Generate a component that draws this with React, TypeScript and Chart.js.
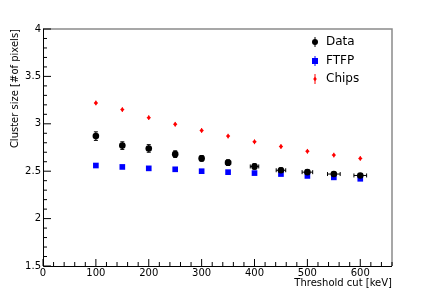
import React, { useEffect, useRef } from "react";
import { Chart, registerables } from "chart.js";

Chart.register(...registerables);

const thresholds = [100, 150, 200, 250, 300, 350, 400, 450, 500, 550, 600];
const dataValues = [2.87, 2.77, 2.74, 2.68, 2.635, 2.59, 2.55, 2.51, 2.49, 2.47, 2.455];
const dataYErr = [0.045, 0.04, 0.04, 0.035, 0.03, 0.03, 0.03, 0.025, 0.025, 0.02, 0.02];
const dataXErr = [0, 0, 0, 0, 0, 5, 8, 9, 10, 12, 12];
const ftfpValues = [2.56, 2.545, 2.53, 2.52, 2.5, 2.49, 2.48, 2.47, 2.45, 2.435, 2.42];
const ftfpYErr = [0.01, 0.01, 0.01, 0.01, 0.01, 0.01, 0.01, 0.01, 0.01, 0.01, 0.01];
const chipsValues = [3.22, 3.15, 3.065, 2.995, 2.93, 2.87, 2.81, 2.76, 2.71, 2.67, 2.635];
const chipsYErr = [0.025, 0.025, 0.025, 0.025, 0.025, 0.025, 0.025, 0.025, 0.025, 0.025, 0.025];
const seriesLabels = ["Data", "FTFP", "Chips"];

const FONT = "'DejaVu Sans', sans-serif";

const errorBarPlugin = {
  id: "errorBars",
  beforeDatasetsDraw(chart: any) {
    const ctx = chart.ctx;
    const xs = chart.scales.x;
    const ys = chart.scales.y;
    chart.data.datasets.forEach((ds: any) => {
      ctx.save();
      ctx.strokeStyle = ds.borderColor;
      ctx.lineWidth = 1;
      ds.data.forEach((p: any) => {
        const px = xs.getPixelForValue(p.x);
        const py = ys.getPixelForValue(p.y);
        if (p.ey) {
          const y1 = ys.getPixelForValue(p.y + p.ey);
          const y2 = ys.getPixelForValue(p.y - p.ey);
          ctx.beginPath();
          ctx.moveTo(px, y1);
          ctx.lineTo(px, y2);
          if (ds.caps) {
            ctx.moveTo(px - 2, y1);
            ctx.lineTo(px + 2, y1);
            ctx.moveTo(px - 2, y2);
            ctx.lineTo(px + 2, y2);
          }
          ctx.stroke();
        }
        if (p.ex) {
          const x1 = xs.getPixelForValue(p.x - p.ex);
          const x2 = xs.getPixelForValue(p.x + p.ex);
          ctx.beginPath();
          ctx.moveTo(x1, py);
          ctx.lineTo(x2, py);
          ctx.moveTo(x1, py - 2);
          ctx.lineTo(x1, py + 2);
          ctx.moveTo(x2, py - 2);
          ctx.lineTo(x2, py + 2);
          ctx.stroke();
        }
      });
      ctx.restore();
    });
  },
};

const framePlugin = {
  id: "frame",
  afterDraw(chart: any) {
    const ctx = chart.ctx;
    const { left, right, top, bottom } = chart.chartArea;
    const xs = chart.scales.x;
    const ys = chart.scales.y;
    ctx.save();
    // top & right frame (grey)
    ctx.strokeStyle = "#8a8a8a";
    ctx.lineWidth = 1.5;
    ctx.beginPath();
    ctx.moveTo(left, top);
    ctx.lineTo(right, top);
    ctx.lineTo(right, bottom);
    ctx.stroke();
    // axes
    ctx.strokeStyle = "#000";
    ctx.lineWidth = 1;
    ctx.beginPath();
    ctx.moveTo(left + 0.5, top);
    ctx.lineTo(left + 0.5, bottom + 0.5);
    ctx.lineTo(right, bottom + 0.5);
    ctx.stroke();
    // x ticks
    const xt = xs.ticks.map((t: any) => t.value);
    const xStep = xt[1] - xt[0];
    ctx.beginPath();
    for (let i = 0; i < xt.length; i++) {
      const px = xs.getPixelForValue(xt[i]);
      ctx.moveTo(px, bottom);
      ctx.lineTo(px, bottom - 7);
      for (let k = 1; k < 5; k++) {
        const v = xt[i] + (xStep * k) / 5;
        if (v > xs.max) break;
        const mx = xs.getPixelForValue(v);
        ctx.moveTo(mx, bottom);
        ctx.lineTo(mx, bottom - 4);
      }
    }
    ctx.stroke();
    // y ticks
    const yt = ys.ticks.map((t: any) => t.value);
    const yStep = yt[1] - yt[0];
    ctx.beginPath();
    for (let i = 0; i < yt.length; i++) {
      const py = ys.getPixelForValue(yt[i]);
      ctx.moveTo(left, py);
      ctx.lineTo(left + 8, py);
      for (let k = 1; k < 5; k++) {
        const v = yt[i] + (yStep * k) / 5;
        if (v > ys.max + 1e-9) break;
        const my = ys.getPixelForValue(v);
        ctx.moveTo(left, my);
        ctx.lineTo(left + 4, my);
      }
    }
    ctx.stroke();
    ctx.restore();
  },
};

const legendPlugin = {
  id: "customLegend",
  afterDraw(chart: any) {
    const ctx = chart.ctx;
    const x0 = 315;
    const rows = [42, 61, 79];
    ctx.save();
    chart.data.datasets.forEach((ds: any, i: number) => {
      const y = rows[i];
      ctx.strokeStyle = ds.borderColor;
      ctx.lineWidth = 1;
      ctx.beginPath();
      ctx.moveTo(x0, y - 5);
      ctx.lineTo(x0, y + 5);
      ctx.stroke();
      ctx.fillStyle = ds.backgroundColor;
      ctx.beginPath();
      if (ds.pointStyle === "rect") {
        ctx.rect(x0 - 3, y - 3, 6, 6);
      } else if (ds.pointStyle === "rectRot") {
        ctx.moveTo(x0, y - 2.2);
        ctx.lineTo(x0 + 1.8, y);
        ctx.lineTo(x0, y + 2.2);
        ctx.lineTo(x0 - 1.8, y);
        ctx.closePath();
      } else {
        ctx.arc(x0, y, 3, 0, Math.PI * 2);
      }
      ctx.fill();
      ctx.fillStyle = "#000";
      ctx.font = `12px ${FONT}`;
      ctx.textAlign = "left";
      ctx.textBaseline = "middle";
      ctx.fillText(ds.label, x0 + 11, y);
    });
    ctx.restore();
  },
};

function mk(vals: number[], ey: number[], ex?: number[]) {
  return thresholds.map((t, i) => ({ x: t, y: vals[i], ey: ey[i], ex: ex ? ex[i] : 0 }));
}

export default function App() {
  const ref = useRef<HTMLCanvasElement>(null);
  useEffect(() => {
    if (!ref.current) return;
    const chart = new Chart(ref.current, {
      type: "scatter",
      data: {
        datasets: [
          {
            label: seriesLabels[0],
            data: mk(dataValues, dataYErr, dataXErr),
            backgroundColor: "#000",
            borderColor: "#000",
            pointStyle: "circle",
            pointRadius: 3.3,
            pointBorderWidth: 0,
            caps: true,
          } as any,
          {
            label: seriesLabels[1],
            data: mk(ftfpValues, ftfpYErr),
            backgroundColor: "#0000ff",
            borderColor: "#0000ff",
            pointStyle: "rect",
            pointRadius: 4,
            pointBorderWidth: 0,
          } as any,
          {
            label: seriesLabels[2],
            data: mk(chipsValues, chipsYErr),
            backgroundColor: "#ff0000",
            borderColor: "#ff0000",
            pointStyle: "rectRot",
            pointRadius: 2.2,
            pointBorderWidth: 0,
          } as any,
        ],
      },
      options: {
        responsive: false,
        animation: false,
        events: [],
        layout: { padding: { left: 0, top: 29, right: 44, bottom: 0 } },
        plugins: { legend: { display: false }, tooltip: { enabled: false } },
        scales: {
          x: {
            type: "linear",
            min: 0,
            max: 660,
            grid: { display: false, drawTicks: false },
            border: { display: false },
            ticks: {
              stepSize: 100,
              includeBounds: false,
              padding: 1,
              color: "#000",
              font: { family: FONT, size: 10 },
              maxRotation: 0,
            },
            title: {
              display: true,
              text: "Threshold cut [keV]",
              align: "end",
              color: "#000",
              font: { family: FONT, size: 10 },
              padding: { top: 0, bottom: 6 },
            },
            afterFit: (s: any) => {
              s.height = 29;
            },
          },
          y: {
            type: "linear",
            min: 1.5,
            max: 4,
            grid: { display: false, drawTicks: false },
            border: { display: false },
            ticks: {
              stepSize: 0.5,
              padding: 2,
              color: "#000",
              font: { family: FONT, size: 10 },
              callback: (v: any) => String(v),
            },
            title: {
              display: true,
              text: "Cluster size [#of pixels]",
              align: "end",
              color: "#000",
              font: { family: FONT, size: 10 },
              padding: { top: 9, bottom: 0 },
            },
            afterFit: (s: any) => {
              s.width = 43;
            },
          },
        },
      } as any,
      plugins: [errorBarPlugin, framePlugin, legendPlugin],
    });
    return () => chart.destroy();
  }, []);
  return (
    <div style={{ position: "absolute", left: 0, top: 0, width: 436, height: 295, background: "#fff" }}>
      <canvas ref={ref} width={436} height={295} style={{ display: "block" }} />
    </div>
  );
}
